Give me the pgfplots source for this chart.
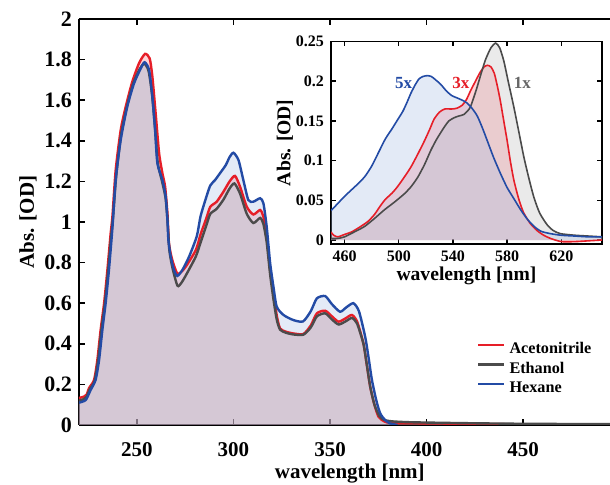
\documentclass[border=0pt]{standalone}
\usepackage{fontspec}
\setmainfont{Liberation Serif}
\usepackage{pgfplots}
\usepackage{pgfplotstable}
\pgfplotsset{compat=1.18}

\definecolor{acn}{RGB}{230,30,40}
\definecolor{eth}{RGB}{75,75,75}
\definecolor{hex}{RGB}{35,75,165}
\definecolor{acnfill}{RGB}{255,113,127}
\definecolor{ethfill}{RGB}{188,188,188}
\definecolor{hexfill}{RGB}{165,188,228}

% main spectra
\pgfplotstableread{
x y
220 0.133
222.6 0.140
224 0.150
225.2 0.182
227.8 0.222
229.5 0.320
231.2 0.468
233.0 0.600
234.7 0.763
236.4 0.944
237.3 1.026
239.0 1.256
241.6 1.453
244.2 1.568
247.6 1.691
251.1 1.782
254.2 1.828
256.6 1.806
258.0 1.716
259.7 1.535
261.5 1.338
263.2 1.240
264.6 1.174
265.8 1.043
266.6 0.895
268.3 0.813
270.9 0.745
273.0 0.755
275.3 0.780
280.5 0.862
283 0.940
286 1.020
288 1.075
291.3 1.100
294.8 1.149
298 1.200
300.8 1.227
303.4 1.174
306.9 1.075
310.3 1.037
313.8 1.059
315.5 1.026
317.2 0.928
319 0.764
320.7 0.649
322.4 0.540
324.1 0.476
327 0.460
331 0.451
336.2 0.448
340 0.490
343.2 0.550
347.5 0.563
351 0.535
354.4 0.509
358 0.525
361.3 0.542
364 0.510
367.3 0.402
369 0.300
370.8 0.189
373 0.100
375.1 0.041
378 0.018
382 0.010
400 0.008
420 0.006
440 0.004
446 0.002
}\acnmain

\pgfplotstableread{
x y
220 0.120
222.6 0.128
224 0.140
225.5 0.175
228 0.215
229.9 0.320
231.6 0.468
233.4 0.600
235.1 0.763
236.8 0.944
237.6 1.020
239.3 1.230
241.8 1.430
244.6 1.560
248 1.680
251.5 1.755
253.8 1.780
256 1.745
257.8 1.630
259.4 1.460
260.8 1.290
263 1.200
264.8 1.120
265.9 1.000
266.8 0.860
268.5 0.770
271 0.686
273 0.700
275.5 0.740
280.5 0.830
283 0.900
286 0.985
288 1.040
291.3 1.065
294.8 1.110
298 1.165
300.5 1.190
303.4 1.140
306.9 1.040
310.3 0.995
313.8 1.020
315.5 0.990
317.2 0.900
319 0.740
320.7 0.620
322.4 0.520
324.1 0.470
327 0.455
331 0.446
336.2 0.445
340 0.480
343.2 0.535
347.5 0.550
351 0.520
354.4 0.495
358 0.510
361.3 0.527
364 0.500
367.3 0.400
369 0.300
370.8 0.190
373 0.100
375.5 0.045
378 0.025
382 0.018
390 0.014
400 0.012
420 0.009
450 0.006
495 0.004
}\ethmain

\pgfplotstableread{
x y
220 0.110
223.5 0.123
226 0.172
228.6 0.222
230.4 0.320
232.1 0.468
233.8 0.600
235.5 0.763
237.3 0.970
239 1.207
241.6 1.404
245 1.568
248.5 1.683
252 1.757
254 1.787
256.3 1.749
258 1.617
259.4 1.453
260.6 1.289
263.2 1.207
264.9 1.125
265.8 1.010
266.3 0.911
267.5 0.829
269.2 0.763
270.9 0.734
273.5 0.763
277 0.829
281 0.930
283 1.030
286 1.125
288 1.180
290.5 1.207
293 1.240
296 1.280
298 1.320
300 1.341
302.6 1.305
305.1 1.207
307.7 1.108
310.3 1.100
313.8 1.117
315.5 1.092
317.2 0.977
319 0.797
320.7 0.681
322.4 0.583
325.9 0.542
331 0.517
336 0.510
340 0.560
343.2 0.624
347.5 0.635
351 0.595
355.2 0.558
358.5 0.580
362.1 0.600
365 0.560
368.2 0.435
370 0.330
371.7 0.222
374 0.120
376 0.057
378.5 0.025
381 0.008
385 0.000
}\hexmain

% inset spectra (scaled 5x, 3x, 1x)
\pgfplotstableread{
x y
450 0.037
455 0.046
460 0.055
465 0.063
470 0.071
475 0.080
480 0.093
485 0.110
490 0.127
495 0.140
499 0.151
503 0.162
506 0.173
509 0.185
512 0.195
515 0.203
518 0.206
521 0.207
524 0.206
527 0.202
531 0.196
535 0.188
539 0.182
543 0.179
547 0.176
550 0.173
554 0.166
558 0.156
562 0.140
566 0.122
570 0.104
575 0.084
580 0.066
585 0.052
590 0.038
595 0.026
600 0.017
605 0.011
612 0.008
620 0.006
630 0.005
640 0.004
650 0.004
}\hexins

\pgfplotstableread{
x y
450 0.010
452 0.006
455 0.004
460 0.007
465 0.010
470 0.015
477 0.023
482 0.032
486 0.042
490 0.051
495 0.059
499 0.067
504 0.079
509 0.092
514 0.108
519 0.125
523 0.140
526 0.152
530 0.161
534 0.165
539 0.165
543 0.166
547 0.170
550 0.177
553 0.188
556 0.198
560 0.211
563 0.218
565.5 0.220
568 0.218
570.5 0.210
573 0.192
575 0.175
577.5 0.150
580 0.125
582.5 0.098
585 0.075
588.5 0.052
592 0.035
597 0.021
602 0.012
607 0.006
612 0.002
620 -0.002
630 -0.002
640 -0.001
650 0.000
}\acnins

\pgfplotstableread{
x y
450 0.002
455 0.002
460 0.004
467 0.010
474.7 0.017
482 0.027
489.4 0.038
497 0.048
504 0.058
509 0.067
514 0.079
519 0.095
523.7 0.113
528 0.127
533.5 0.142
537 0.150
540.9 0.154
544 0.156
548 0.158
551 0.163
553 0.168
557 0.188
560.5 0.208
564 0.227
568 0.242
571.5 0.248
574.5 0.242
577.6 0.225
581 0.198
585 0.167
589 0.133
592.4 0.104
596 0.078
599.7 0.054
604 0.034
609.6 0.019
614 0.012
619.3 0.008
630 0.006
640 0.005
650 0.004
}\ethins

\begin{document}
\begin{tikzpicture}
\begin{axis}[
  at={(0,0)}, anchor=south west,
  scale only axis, width=265.5pt, height=203pt,
  xmin=220, xmax=495, ymin=0, ymax=2,
  axis x line*=box, axis y line*=left,
  axis line style={line width=0.8pt},
  x axis line style={-}, y axis line style={-},
  every non boxed y axis/.append style={y axis line style={-}, ytick align=inside},
  xtick pos=both, ytick pos=left,
  tick align=inside, major tick length=3pt,
  tick style={line width=0.8pt, black},
  xtick={250,300,350,400,450},
  ytick={0,0.2,0.4,0.6,0.8,1,1.2,1.4,1.6,1.8,2},
  /pgf/number format/assume math mode=true,
  tick label style={font=\bfseries\fontsize{10.5}{12}\selectfont},
  yticklabel style={font=\bfseries\fontsize{11}{12}\selectfont},
  xticklabel style={yshift=-5pt},
  every axis x label/.style={at={(axis description cs:0.51,0)}, yshift=-24.5pt, anchor=center},
  every axis y label/.style={at={(axis description cs:0,0.5)}, xshift=-25.5pt, rotate=90, anchor=center},
  label style={font=\bfseries\fontsize{10.5}{12}\selectfont},
  xlabel={wavelength [nm]}, ylabel={Abs. [OD]},
  legend style={draw=none, fill=none, at={(axis description cs:0.749,0.206)}, anchor=north west,
    inner sep=0pt, row sep=2pt, column sep=2pt,
    font=\bfseries\fontsize{8.1}{9}\selectfont,
    nodes={inner sep=0pt, text height=6pt, text depth=1.75pt}},
  legend image code/.code={\draw[#1] (0pt,2.2pt) -- (13pt,2.2pt);},
  legend cell align=left,
]
\addplot[draw=none, fill=acnfill, fill opacity=0.3, smooth, tension=0.4, forget plot] table {\acnmain} \closedcycle;
\addplot[draw=none, fill=ethfill, fill opacity=0.3, smooth, tension=0.4, forget plot] table {\ethmain} \closedcycle;
\addplot[draw=none, fill=hexfill, fill opacity=0.3, smooth, tension=0.4, forget plot] table {\hexmain} \closedcycle;
\addplot[acn, line width=1.2pt, smooth, tension=0.4, forget plot] table {\acnmain};
\addplot[eth, line width=1.2pt, smooth, tension=0.4, forget plot] table {\ethmain};
\addplot[hex, line width=1.2pt, smooth, tension=0.4, forget plot] table {\hexmain};
\addlegendimage{acn, line width=1.2pt}
\addlegendentry{Acetonitrile}
\addlegendimage{eth, line width=1.2pt}
\addlegendentry{Ethanol}
\addlegendimage{hex, line width=1.2pt}
\addlegendentry{Hexane}
\end{axis}

\begin{axis}[
  at={(126pt,90.5pt)}, anchor=south west,
  scale only axis, width=135.5pt, height=101.25pt,
  xmin=450, xmax=650, ymin=-0.005, ymax=0.25,
  axis background/.style={fill=white},
  axis line style={line width=0.8pt},
  tick align=inside, major tick length=2.5pt,
  tick style={line width=0.7pt, black},
  xtick={460,500,540,580,620},
  ytick={0,0.05,0.1,0.15,0.2,0.25},
  yticklabels={0,0.05,0.1,0.15,0.2,0.25},
  /pgf/number format/assume math mode=true,
  tick label style={font=\bfseries\fontsize{8}{9}\selectfont},
  every axis x label/.style={at={(axis description cs:0.5,0)}, yshift=-16pt, anchor=center},
  every axis y label/.style={at={(axis description cs:0,0.5)}, xshift=-23pt, rotate=90, anchor=center},
  label style={font=\bfseries\fontsize{9.8}{11}\selectfont},
  xlabel={wavelength [nm]}, ylabel={Abs. [OD]},
]
\addplot[draw=none, fill=acnfill, fill opacity=0.3, smooth, tension=0.4] table {\acnins} \closedcycle;
\addplot[draw=none, fill=ethfill, fill opacity=0.3, smooth, tension=0.4] table {\ethins} \closedcycle;
\addplot[draw=none, fill=hexfill, fill opacity=0.3, smooth, tension=0.4] table {\hexins} \closedcycle;
\addplot[acn, line width=0.8pt, smooth, tension=0.4] table {\acnins};
\addplot[eth, line width=0.8pt, smooth, tension=0.4] table {\ethins};
\addplot[hex, line width=0.8pt, smooth, tension=0.4] table {\hexins};
\node[text=hex, font=\bfseries\fontsize{8.5}{10}\selectfont] at (axis cs:503.6,0.1975) {5x};
\node[text=acn, font=\bfseries\fontsize{8.5}{10}\selectfont] at (axis cs:545.8,0.1975) {3x};
\node[text=eth!85, font=\bfseries\fontsize{8.5}{10}\selectfont] at (axis cs:591.2,0.1975) {1x};
\end{axis}
\pgfresetboundingbox
\path[use as bounding box] (-39.5pt,-30pt) rectangle (265.5pt,212.5pt);
\end{tikzpicture}
\end{document}
